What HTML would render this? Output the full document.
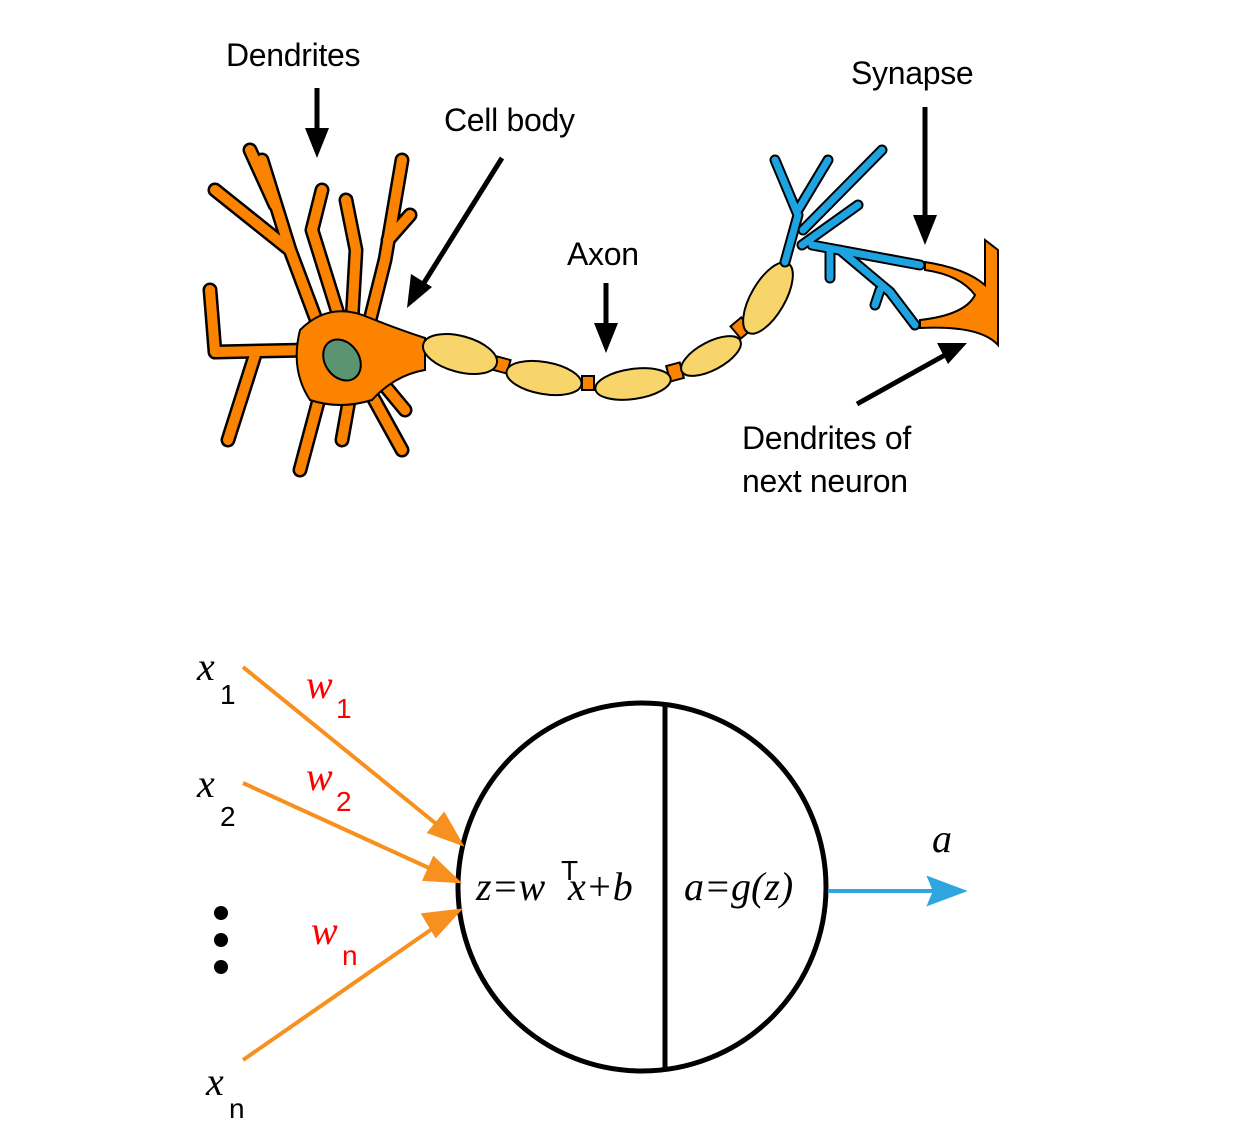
<!DOCTYPE html>
<html><head><meta charset="utf-8"><style>
html,body{margin:0;padding:0;background:#fff;}
svg{display:block;}
.lbl{font-family:"Liberation Sans",sans-serif;font-size:32px;fill:#000;letter-spacing:-0.3px;}
.m{font-family:"Liberation Serif",serif;font-style:italic;font-size:40px;}
.sub{font-family:"Liberation Sans",sans-serif;font-size:28px;}
</style></head><body>
<svg width="1242" height="1129" viewBox="0 0 1242 1129">
<g>
<g stroke="#000" stroke-width="15" fill="none" stroke-linecap="round" stroke-linejoin="round">
<path d="M320,330 L290,250 L262,160 M290,250 L215,190 M275,205 L250,150 M340,320 L312,230 L322,190 M370,320 L385,260 L402,160 M388,240 L410,215 M352,320 L356,250 L346,200 M310,350 L215,352 L210,290 M255,355 L228,440 M320,395 L300,470 M350,395 L342,440 M370,392 L402,450 M380,380 L405,410"/>
</g>
<g stroke="#fb8300" stroke-width="10" fill="none" stroke-linecap="round" stroke-linejoin="round">
<path d="M320,330 L290,250 L262,160 M290,250 L215,190 M275,205 L250,150 M340,320 L312,230 L322,190 M370,320 L385,260 L402,160 M388,240 L410,215 M352,320 L356,250 L346,200 M310,350 L215,352 L210,290 M255,355 L228,440 M320,395 L300,470 M350,395 L342,440 M370,392 L402,450 M380,380 L405,410"/>
</g>
<path d="M300,330 Q330,300 370,318 Q400,330 425,338 L425,370 Q395,375 372,400 Q340,410 310,400 Q290,370 300,330 z" fill="#fb8300" stroke="#000" stroke-width="2"/>
<ellipse cx="342" cy="360" rx="17" ry="22" transform="rotate(-35 342 360)" fill="#5a9470" stroke="#000" stroke-width="2"/>
</g>
<g stroke="#000" stroke-width="2">
<rect x="495" y="358" width="14" height="14" fill="#fb8300" transform="rotate(15 502 365)"/>
<rect x="582" y="376" width="12" height="14" fill="#fb8300"/>
<rect x="668" y="364" width="14" height="16" fill="#fb8300" transform="rotate(-15 675 372)"/>
<rect x="734" y="320" width="14" height="16" fill="#fb8300" transform="rotate(-40 741 328)"/>
<ellipse cx="460" cy="354" rx="38" ry="18" transform="rotate(15 460 354)" fill="#f7d56a"/>
<ellipse cx="544" cy="378" rx="38" ry="16" transform="rotate(10 544 378)" fill="#f7d56a"/>
<ellipse cx="633" cy="384" rx="38" ry="15" transform="rotate(-8 633 384)" fill="#f7d56a"/>
<ellipse cx="711" cy="356" rx="33" ry="14" transform="rotate(-28 711 356)" fill="#f7d56a"/>
<ellipse cx="768" cy="298" rx="17" ry="40" transform="rotate(30 768 298)" fill="#f7d56a"/>
</g>
<g fill="none" stroke-linecap="round" stroke-linejoin="round">
<path stroke="#000" stroke-width="11" d="M785,262 L798,215 L775,160 M798,210 L828,160 M803,230 L882,150 M802,245 L858,205 M812,245 L920,265 M840,250 L890,292 L915,325 M830,252 L830,278 M880,290 L875,305"/>
<path stroke="#1ca3e0" stroke-width="7" d="M785,262 L798,215 L775,160 M798,210 L828,160 M803,230 L882,150 M802,245 L858,205 M812,245 L920,265 M840,250 L890,292 L915,325 M830,252 L830,278 M880,290 L875,305"/>
</g>
<g>
<path d="M925,262 Q965,268 985,285 L985,240 L998,250 L998,345 Q980,325 920,328 L920,320 Q965,315 975,295 Q960,275 925,270 z" fill="#fb8300" stroke="#000" stroke-width="2"/>
</g>
<g stroke="#000" stroke-width="5">
<line x1="317" y1="88" x2="317" y2="135"/>
<line x1="502" y1="158" x2="422" y2="286"/>
<line x1="606" y1="283" x2="606" y2="330"/>
<line x1="925" y1="107" x2="925" y2="222"/>
<line x1="857" y1="404" x2="945" y2="355"/>
</g>
<g fill="#000">
<path d="M305,128 L329,128 L317,158 z"/>
<path d="M594,323 L618,323 L606,353 z"/>
<path d="M913,215 L937,215 L925,245 z"/>
<path d="M411,274 L432,287 L407,308 z" />
<path d="M937,343 L948,364 L967,343 z"/>
</g>
<text class="lbl" x="226" y="66">Dendrites</text>
<text class="lbl" x="444" y="131">Cell body</text>
<text class="lbl" x="567" y="265">Axon</text>
<text class="lbl" x="851" y="84">Synapse</text>
<text class="lbl" x="742" y="449">Dendrites of</text>
<text class="lbl" x="742" y="492">next neuron</text>

<g>
<circle cx="642" cy="887" r="184" fill="none" stroke="#000" stroke-width="5"/>
<line x1="665" y1="704" x2="665" y2="1070" stroke="#000" stroke-width="5"/>
<g stroke="#f7901e" stroke-width="4" fill="#f7901e">
<line x1="243" y1="667" x2="445" y2="831"/><path d="M460,843 L430,832 L444,815 z"/>
<line x1="243" y1="783" x2="440" y2="873"/><path d="M457,881 L425,879 L434,859 z"/>
<line x1="243" y1="1060" x2="442" y2="922"/><path d="M458,911 L436,935 L424,915 z"/>
</g>
<g stroke="#2fa6df" stroke-width="4" fill="#2fa6df">
<line x1="828" y1="891" x2="942" y2="891"/><path d="M962,891 L930,903 L935,891 L930,879 z"/>
</g>
<text class="m" x="197" y="680">x</text><text class="sub" x="220" y="704">1</text>
<text class="m" x="197" y="797">x</text><text class="sub" x="220" y="826">2</text>
<text class="m" x="206" y="1095">x</text><text class="sub" x="229" y="1118">n</text>
<text class="m" x="306" y="698" fill="#ff0000">w</text><text class="sub" x="336" y="718" fill="#ff0000">1</text>
<text class="m" x="306" y="790" fill="#ff0000">w</text><text class="sub" x="336" y="811" fill="#ff0000">2</text>
<text class="m" x="311" y="944" fill="#ff0000">w</text><text class="sub" x="342" y="965" fill="#ff0000">n</text>
<g fill="#000"><circle cx="221" cy="913" r="7"/><circle cx="221" cy="940" r="7"/><circle cx="221" cy="967" r="7"/></g>
<text class="m" x="476" y="900">z=w</text><text class="sub" x="561" y="880">T</text><text class="m" x="568" y="900">x+b</text>
<text class="m" x="684" y="900">a=g(z)</text>
<text class="m" x="932" y="852">a</text>
</g>
</svg>
</body></html>
